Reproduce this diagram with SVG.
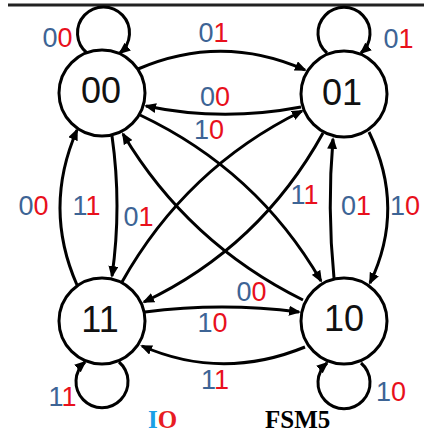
<svg xmlns="http://www.w3.org/2000/svg" width="432" height="437" viewBox="0 0 432 437">
<defs>
<marker id="ah" markerUnits="userSpaceOnUse" markerWidth="12" markerHeight="10" refX="10" refY="5" orient="auto">
<path d="M0,0 L12,5 L0,10 z" fill="#000"/>
</marker>
<style>
.node circle{fill:#fff;stroke:#000;stroke-width:3}
.node text{font-family:"Liberation Sans",Arial,sans-serif;font-size:36px;text-anchor:middle;fill:#111}
.edges path{fill:none;stroke:#000;stroke-width:3;marker-end:url(#ah)}
.lbl{font-family:"Liberation Sans",Arial,sans-serif;font-size:27px;text-anchor:middle}
.b{fill:#3d6495}
.r{fill:#e8101c}
.cap{font-family:"Liberation Serif","Times New Roman",serif;font-weight:bold;font-size:25px}
</style>
</defs>
<rect width="432" height="437" fill="#fff"/>
<line x1="8" y1="5" x2="424" y2="5" stroke="#222" stroke-width="3"/>

<g class="edges">
<!-- self loops -->
<path d="M87,53 A26,26 0 1 1 120,53"/>
<path d="M327,53 A26,26 0 1 1 361,53"/>
<path d="M119,362 A26,26 0 1 1 85,362"/>
<path d="M361,363 A26,26 0 1 1 327,363"/>
<!-- top -->
<path d="M138,69 Q222,33 305,70"/>
<path d="M301,107 Q222,122 146,106"/>
<!-- left -->
<path d="M112,136 Q122,206 112,276"/>
<path d="M77,285 Q43,208 77,130"/>
<!-- right -->
<path d="M334,278 Q327,208 333,139"/>
<path d="M369,132 Q406,208 370,283"/>
<!-- bottom -->
<path d="M145,312 Q222,302 299,312"/>
<path d="M305,347 Q222,381 142,346"/>
<!-- diagonals -->
<path d="M140,115 Q257,170.5 321,281"/>
<path d="M303,300 Q188,243 123,134"/>
<path d="M122,282 Q186,168 302,111"/>
<path d="M323,133 Q260,247 144,302"/>
</g>

<g id="n00" class="node"><circle cx="102" cy="93" r="43"/><text x="101" y="103">00</text></g>
<g id="n01" class="node"><circle cx="344" cy="94" r="43"/><text x="342" y="105">01</text></g>
<g id="n11" class="node"><circle cx="102" cy="321" r="43"/><text x="100" y="332">11</text></g>
<g id="n10" class="node"><circle cx="344" cy="321" r="43"/><text x="344" y="331">10</text></g>

<g id="labels" class="lbl">
<text x="57.5" y="47"><tspan class="b">0</tspan><tspan class="r">0</tspan></text>
<text x="398.5" y="48"><tspan class="b">0</tspan><tspan class="r">1</tspan></text>
<text x="62.5" y="406"><tspan class="b">1</tspan><tspan class="r">1</tspan></text>
<text x="391" y="401"><tspan class="b">1</tspan><tspan class="r">0</tspan></text>
<text x="213.5" y="42"><tspan class="b">0</tspan><tspan class="r">1</tspan></text>
<text x="215" y="106"><tspan class="b">0</tspan><tspan class="r">0</tspan></text>
<text x="209" y="139"><tspan class="b">1</tspan><tspan class="r">0</tspan></text>
<text x="33.5" y="215"><tspan class="b">0</tspan><tspan class="r">0</tspan></text>
<text x="86.5" y="215"><tspan class="b">1</tspan><tspan class="r">1</tspan></text>
<text x="138.5" y="226"><tspan class="b">0</tspan><tspan class="r">1</tspan></text>
<text x="304.5" y="204"><tspan class="b">1</tspan><tspan class="r">1</tspan></text>
<text x="356" y="215"><tspan class="b">0</tspan><tspan class="r">1</tspan></text>
<text x="405" y="215"><tspan class="b">1</tspan><tspan class="r">0</tspan></text>
<text x="251.5" y="301"><tspan class="b">0</tspan><tspan class="r">0</tspan></text>
<text x="212.5" y="332"><tspan class="b">1</tspan><tspan class="r">0</tspan></text>
<text x="215" y="389"><tspan class="b">1</tspan><tspan class="r">1</tspan></text>
</g>

<text class="cap" x="148" y="428"><tspan fill="#1aa0e6">I</tspan><tspan fill="#e81c24">O</tspan></text>
<text class="cap" x="265" y="428" fill="#000">FSM5</text>
</svg>
